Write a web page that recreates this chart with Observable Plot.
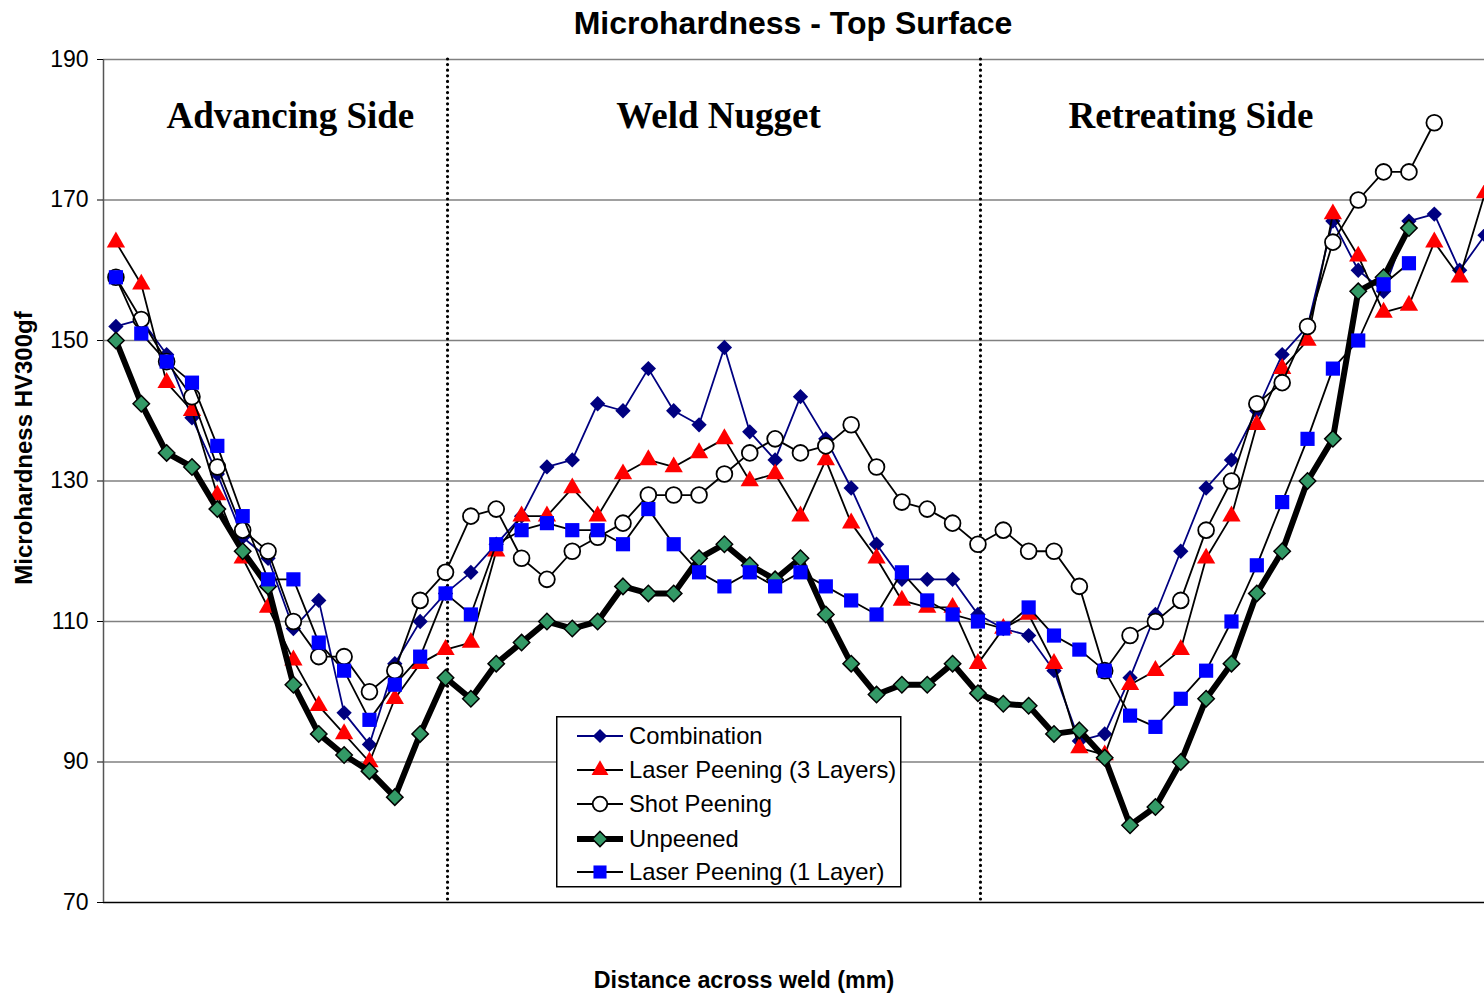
<!DOCTYPE html>
<html><head><meta charset="utf-8">
<script src="https://cdn.jsdelivr.net/npm/d3@7"></script>
<script src="https://cdn.jsdelivr.net/npm/@observablehq/plot@0.6"></script>
<style>
body{margin:0;background:#fff;}
#wrap{position:relative;width:1484px;height:994px;overflow:hidden;font-family:"Liberation Sans",Arial,sans-serif;color:#000;}
#chart{position:absolute;left:0;top:0;}
#title{position:absolute;left:0;width:1586px;top:7px;text-align:center;font-weight:bold;font-size:32px;line-height:1;}
#xlabel{position:absolute;left:0;width:1488px;top:969px;text-align:center;font-weight:bold;font-size:23.3px;line-height:1;}
#ylabel{position:absolute;left:24px;top:448px;transform:translate(-50%,-50%) rotate(-90deg);white-space:nowrap;font-weight:bold;font-size:24px;line-height:1;}
#legend{position:absolute;left:556px;top:716px;}
</style>
</head><body>
<div id="wrap">
  <div id="chart"></div>
  <div id="title">Microhardness - Top Surface</div>
  <div id="ylabel">Microhardness HV300gf</div>
  <div id="xlabel">Distance across weld (mm)</div>
  <div id="legend"></div>
</div>
<script>
// ---- data ----
const seriesNames = ["Combination","Laser Peening (3 Layers)","Shot Peening","Unpeened","Laser Peening (1 Layer)"];
const combination = [152,153,148,139,131,122,119,109,113,97, 92.5,104,110,114,117,121,125,132,133,141, 140,146,140,138,149,137,133,142,136,129, 121,116,116,116,111,109,108,103,93,94, 102,111,120,129,133,140,148,152,167,160, 157,167,168,160,165];
const laser3 = [164,158,144,140,128,119,112,104.5,98,94, 90,99,104,106,107,120,125,125,129,125, 131,133,132,134,136,130,131,125,133,124, 119,113,112,112,104,109,111,104,92,91, 101,103,106,119,125,138,146,150,168,162, 154,155,164,159,171];
const shot = [159,153,147,142,132,123,120,110,105,105, 100,103,113,117,125,126,119,116,120,122, 124,128,128,128,131,134,136,134,135,138, 132,127,126,124,121,123,120,120,115,103, 108,110,113,123,130,141,144,152,164,170, 174,174,181];
const unpeened = [150,141,134,132,126,120,115,101,94,91, 88.7,85,94,102,99,104,107,110,109,110, 115,114,114,119,121,118,116,119,111,104, 99.6,101,101,104,99.8,98.3,98,94,94.5,90.6, 81,83.6,90,99,104,114,120,130,136,157, 159,166];
const laser1 = [159,151,147,144,135,125,116,116,107,103, 96,101,105,114,111,121,123,124,123,123, 121,126,121,117,115,117,115,117,115,113, 111,117,113,111,110,109,112,108,106,103, 96.6,95,99,103,110,118,127,136,146,150, 158,161];
const yTicks = [70,90,110,130,150,170,190];
const zoneLabels = ["Advancing Side","Weld Nugget","Retreating Side"];

// ---- layout / style (kept apart from the data) ----
const xDomain = [-0.49, 53.98];
const zoneBoundaries = [13.08, 34.1];
const zoneCenters = [6.88, 23.77, 42.4];
const zoneLabelY = 182;
const styles = [
  {line:"#000080", lw:1.8, symbol:"diamond2", fill:"#000080", mstroke:"none", msw:0, r:6.9},
  {line:"#000000", lw:1.8, symbol:"triangle", fill:"#ff0000", mstroke:"none", msw:0, r:6.8},
  {line:"#000000", lw:1.8, symbol:"circle", fill:"#ffffff", mstroke:"#000000", msw:1.8, r:7.9},
  {line:"#000000", lw:6, symbol:"diamond2", fill:"#339966", mstroke:"#000000", msw:1.5, r:7.4},
  {line:"#000000", lw:1.8, symbol:"square", fill:"#0000ff", mstroke:"none", msw:0, r:8}
];
const seriesValues = [combination, laser3, shot, unpeened, laser1];
const rows = seriesValues.map(vals => vals.map((v, i) => ({i, v})));

const seriesMarks = [];
rows.forEach((data, k) => {
  const s = styles[k];
  seriesMarks.push(Plot.line(data, {x:"i", y:"v", stroke:s.line, strokeWidth:s.lw, strokeLinejoin:"round", clip:true}));
  seriesMarks.push(Plot.dot(data, {x:"i", y:"v", symbol:s.symbol, r:s.r, fill:s.fill, stroke:s.mstroke, strokeWidth:s.msw, clip:true}));
});

const chart = Plot.plot({
  width:1484, height:994,
  marginTop:59, marginBottom:92, marginLeft:103, marginRight:0,
  style:{fontFamily:"'Liberation Sans', Arial, sans-serif", fontSize:"23px", color:"#000", background:"transparent", overflow:"visible"},
  x:{domain:xDomain, axis:null},
  y:{domain:[70,190], axis:null},
  marks:[
    Plot.ruleY(yTicks.filter(t => t > 70), {stroke:"#808080", strokeWidth:1.5}),
    Plot.ruleY([70], {stroke:"#000", strokeWidth:1.5}),
    Plot.ruleX([xDomain[0]], {stroke:"#555", strokeWidth:1.5}),
    Plot.axisY({ticks:yTicks, tickSize:6, tickPadding:9, tickFormat:d => String(d), anchor:"left", label:null, fontSize:23}),
    Plot.ruleX(zoneBoundaries, {stroke:"#000", strokeWidth:3.2, strokeDasharray:"0 5.6", strokeLinecap:"round"}),
    Plot.text(zoneLabels, {x:(d, i) => zoneCenters[i], y:() => zoneLabelY, text:d => d, fontFamily:"'Liberation Serif', 'Times New Roman', serif", fontWeight:"bold", fontSize:37, lineAnchor:"middle"}),
    ...seriesMarks
  ]
});
document.getElementById("chart").appendChild(chart);

// ---- legend (inside the plot area, like the original) ----
const L = d3.select("#legend").append("svg").attr("width", 346).attr("height", 172);
L.append("rect").attr("x", 0.75).attr("y", 0.75).attr("width", 344).attr("height", 170)
  .attr("fill", "#fff").attr("stroke", "#000").attr("stroke-width", 1.5);
const symMap = {diamond2:d3.symbolDiamond2, triangle:d3.symbolTriangle, circle:d3.symbolCircle, square:d3.symbolSquare};
const rowY = [20, 54, 88, 123, 156];
seriesNames.forEach((name, k) => {
  const s = styles[k];
  const g = L.append("g").attr("transform", `translate(0,${rowY[k]})`);
  g.append("line").attr("x1", 21).attr("x2", 67).attr("y1", 0).attr("y2", 0)
    .attr("stroke", s.line).attr("stroke-width", s.lw);
  g.append("path").attr("transform", "translate(44,0)")
    .attr("d", d3.symbol().type(symMap[s.symbol]).size(Math.PI * s.r * s.r * 0.85)())
    .attr("fill", s.fill).attr("stroke", s.mstroke).attr("stroke-width", s.msw);
  g.append("text").attr("x", 73).attr("y", 0).attr("dy", "0.35em")
    .attr("font-family", "'Liberation Sans', Arial, sans-serif").attr("font-size", 23.8).attr("fill", "#000")
    .text(name);
});
</script>
</body></html>
